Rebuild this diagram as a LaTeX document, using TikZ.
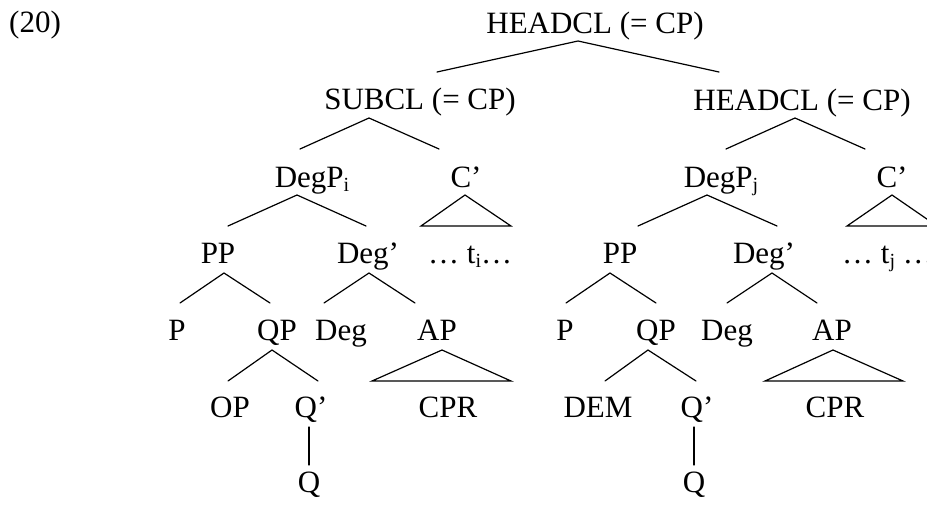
\documentclass[tikz,border=0pt]{standalone}
\usepackage{fontspec}
\setmainfont{Liberation Serif}
\newcommand\subsc[1]{\raisebox{-0.16em}{\fontsize{20}{20}\selectfont #1}}
\begin{document}
\begin{tikzpicture}[x=1pt,y=-1pt,
  lab/.style={inner sep=0pt,anchor=base,font=\fontsize{31}{31}\selectfont},
  edge/.style={line width=1.2pt,line cap=round,line join=miter}]
\clip (0,0) rectangle (927,504);
\fill[white] (0,0) rectangle (927,504);
% labels
\node[lab] (ex) at (35,32) {(20)};
\node[lab] (hc) at (595,33) {HEADCL (= CP)};
\node[lab] (sc) at (420,109) {SUBCL (= CP)};
\node[lab] (hc2) at (802,110) {HEADCL (= CP)};
\node[lab] (dpi) at (312,187) {DegP\subsc{i}};
\node[lab] (c1) at (466,187) {C’};
\node[lab] (dpj) at (721,187) {DegP\subsc{j}};
\node[lab] (c2) at (892,187) {C’};
\node[lab] (pp1) at (218,263) {PP};
\node[lab] (dg1) at (368,263) {Deg’};
\node[lab,anchor=base west] (ti) at (428,263) {… t\subsc{i}…};
\node[lab] (pp2) at (620,263) {PP};
\node[lab] (dg2) at (764,263) {Deg’};
\node[lab,anchor=base west] (tj) at (842,263) {… t\subsc{j} …};
\node[lab] (p1) at (177,340) {P};
\node[lab] (qp1) at (277,340) {QP};
\node[lab] (d1) at (341,340) {Deg};
\node[lab] (ap1) at (437,340) {AP};
\node[lab] (p2) at (565,340) {P};
\node[lab] (qp2) at (656,340) {QP};
\node[lab] (d2) at (727,340) {Deg};
\node[lab] (ap2) at (832,340) {AP};
\node[lab] (op) at (230,417) {OP};
\node[lab] (q1p) at (311,417) {Q’};
\node[lab] (cpr1) at (448,417) {CPR};
\node[lab] (dem) at (598,417) {DEM};
\node[lab] (q2p) at (697,417) {Q’};
\node[lab] (cpr2) at (835,417) {CPR};
\node[lab] (q1) at (309,492) {Q};
\node[lab] (q2) at (694,492) {Q};
% branch points
\coordinate (hc-a) at (578,41); \coordinate (sc-t) at (437,72); \coordinate (hc2-t) at (719,72);
\coordinate (sc-a) at (369,118); \coordinate (dpi-t) at (300,149); \coordinate (c1-t) at (439,149);
\coordinate (hc2-a) at (795,118); \coordinate (dpj-t) at (726,149); \coordinate (c2-t) at (865,149);
\coordinate (dpi-a) at (297,195); \coordinate (pp1-t) at (228,226); \coordinate (dg1-t) at (366,226);
\coordinate (c1-a) at (465,195); \coordinate (c1-l) at (421,226); \coordinate (c1-r) at (511,226);
\coordinate (dpj-a) at (707,195); \coordinate (pp2-t) at (638,226); \coordinate (dg2-t) at (777,226);
\coordinate (c2-a) at (892,195); \coordinate (c2-l) at (847,226); \coordinate (c2-r) at (937,226);
\coordinate (pp1-a) at (224,273); \coordinate (p1-t) at (180,303); \coordinate (qp1-t) at (270,303);
\coordinate (dg1-a) at (369,273); \coordinate (d1-t) at (324,303); \coordinate (ap1-t) at (415,303);
\coordinate (pp2-a) at (610,273); \coordinate (p2-t) at (566,303); \coordinate (qp2-t) at (656,303);
\coordinate (dg2-a) at (772,273); \coordinate (d2-t) at (727,303); \coordinate (ap2-t) at (817,303);
\coordinate (qp1-a) at (272,350); \coordinate (op-t) at (228,381); \coordinate (q1p-t) at (318,381);
\coordinate (ap1-a) at (442,350); \coordinate (ap1-l) at (372,381); \coordinate (ap1-r) at (511,381);
\coordinate (qp2-a) at (648,350); \coordinate (dem-t) at (605,381); \coordinate (q2p-t) at (696,381);
\coordinate (ap2-a) at (833,350); \coordinate (ap2-l) at (765,381); \coordinate (ap2-r) at (903,381);
\coordinate (q1p-a) at (309,427); \coordinate (q1-t) at (309,465);
\coordinate (q2p-a) at (694,427); \coordinate (q2-t) at (694,465);
% branches
\draw[edge] (sc-t) -- (hc-a) -- (hc2-t);
\draw[edge] (dpi-t) -- (sc-a) -- (c1-t);
\draw[edge] (dpj-t) -- (hc2-a) -- (c2-t);
\draw[edge] (pp1-t) -- (dpi-a) -- (dg1-t);
\draw[edge] (c1-l) -- (c1-a) -- (c1-r) -- cycle;
\draw[edge] (pp2-t) -- (dpj-a) -- (dg2-t);
\draw[edge] (c2-l) -- (c2-a) -- (c2-r) -- cycle;
\draw[edge] (p1-t) -- (pp1-a) -- (qp1-t);
\draw[edge] (d1-t) -- (dg1-a) -- (ap1-t);
\draw[edge] (p2-t) -- (pp2-a) -- (qp2-t);
\draw[edge] (d2-t) -- (dg2-a) -- (ap2-t);
\draw[edge] (op-t) -- (qp1-a) -- (q1p-t);
\draw[edge] (ap1-l) -- (ap1-a) -- (ap1-r) -- cycle;
\draw[edge] (dem-t) -- (qp2-a) -- (q2p-t);
\draw[edge] (ap2-l) -- (ap2-a) -- (ap2-r) -- cycle;
\draw[edge] (q1p-a) -- (q1-t);
\draw[edge] (q2p-a) -- (q2-t);
\end{tikzpicture}
\end{document}
